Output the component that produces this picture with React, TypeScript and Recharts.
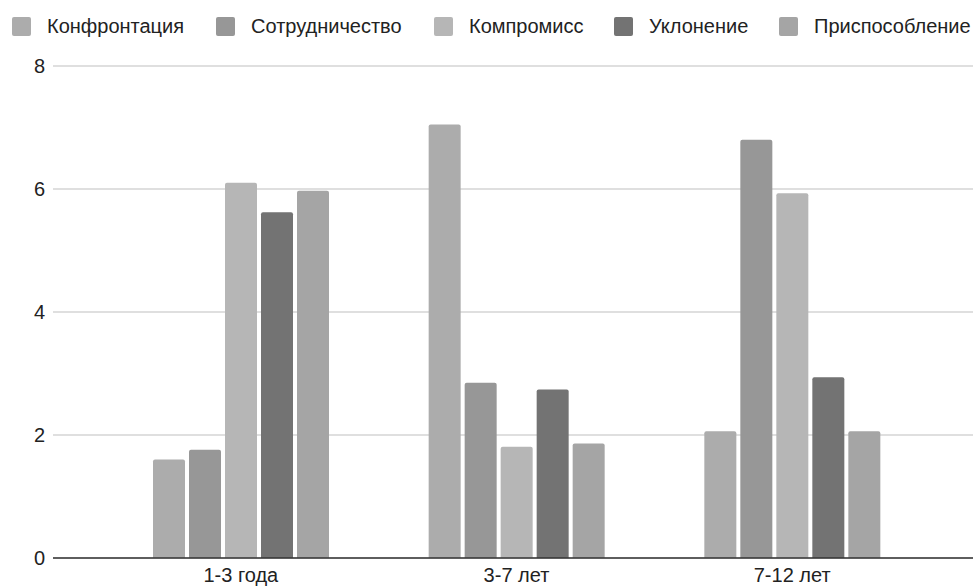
import React from 'react';
import { BarChart, Bar, XAxis, YAxis, CartesianGrid } from 'recharts';

const categories = ['1-3 года', '3-7 лет', '7-12 лет'];
const seriesNames = ['Конфронтация', 'Сотрудничество', 'Компромисс', 'Уклонение', 'Приспособление'];
const konfrontaciya = [1.6, 7.05, 2.06];
const sotrudnichestvo = [1.76, 2.85, 6.8];
const kompromiss = [6.1, 1.81, 5.93];
const uklonenie = [5.62, 2.74, 2.94];
const prisposoblenie = [5.97, 1.86, 2.06];
const yTicks = [0, 2, 4, 6, 8];
const colors = ['#acacac', '#979797', '#b6b6b6', '#737373', '#a5a5a5'];

const seriesValues = [konfrontaciya, sotrudnichestvo, kompromiss, uklonenie, prisposoblenie];
const data = categories.map((c, i) => {
  const row: Record<string, string | number> = { name: c };
  seriesNames.forEach((s, j) => {
    row[s] = seriesValues[j][i];
  });
  return row;
});

const FONT = '"Liberation Sans", Arial, Helvetica, sans-serif';
const legendLefts = [12, 216, 434, 614, 779];

const LegendContent = () => (
  <div style={{ position: 'absolute', top: 14, left: 0, width: 974, height: 24, fontFamily: FONT, fontSize: 20, color: '#222', zIndex: 2 }}>
    {seriesNames.map((s, i) => (
      <div
        key={s}
        style={{ position: 'absolute', left: legendLefts[i], top: 0, display: 'flex', alignItems: 'center', whiteSpace: 'nowrap', height: 24 }}
      >
        <div style={{ width: 19, height: 19, background: colors[i], borderRadius: 2, marginRight: 16 }} />
        <span>{s}</span>
      </div>
    ))}
  </div>
);

export default function App() {
  return (
    <div style={{ position: 'absolute', left: 0, top: 0, width: 974, height: 587, background: '#fff', overflow: 'hidden' }}>
      <LegendContent />
      <BarChart
        width={974}
        height={587}
        data={data}
        margin={{ top: 66, right: 1, bottom: 0, left: 0 }}
        barSize={32}
        barGap={4}
      >
        <CartesianGrid horizontal vertical={false} stroke="#d4d4d4" strokeWidth={1.5} />
        <XAxis
          dataKey="name"
          height={29}
          padding={{ left: 50, right: 43 }}
          tickLine={false}
          tickSize={0}
          tickMargin={10}
          axisLine={{ stroke: '#333', strokeWidth: 1.5 }}
          tick={{ fill: '#222', fontSize: 20, fontFamily: FONT }}
        />
        <YAxis
          width={53}
          domain={[0, 8]}
          ticks={yTicks}
          axisLine={false}
          tickLine={false}
          tickSize={0}
          tickMargin={8}
          tick={{ fill: '#222', fontSize: 20, fontFamily: FONT }}
        />
        {seriesNames.map((s, i) => (
          <Bar key={s} dataKey={s} fill={colors[i]} radius={[2, 2, 0, 0]} isAnimationActive={false} />
        ))}
      </BarChart>
    </div>
  );
}
